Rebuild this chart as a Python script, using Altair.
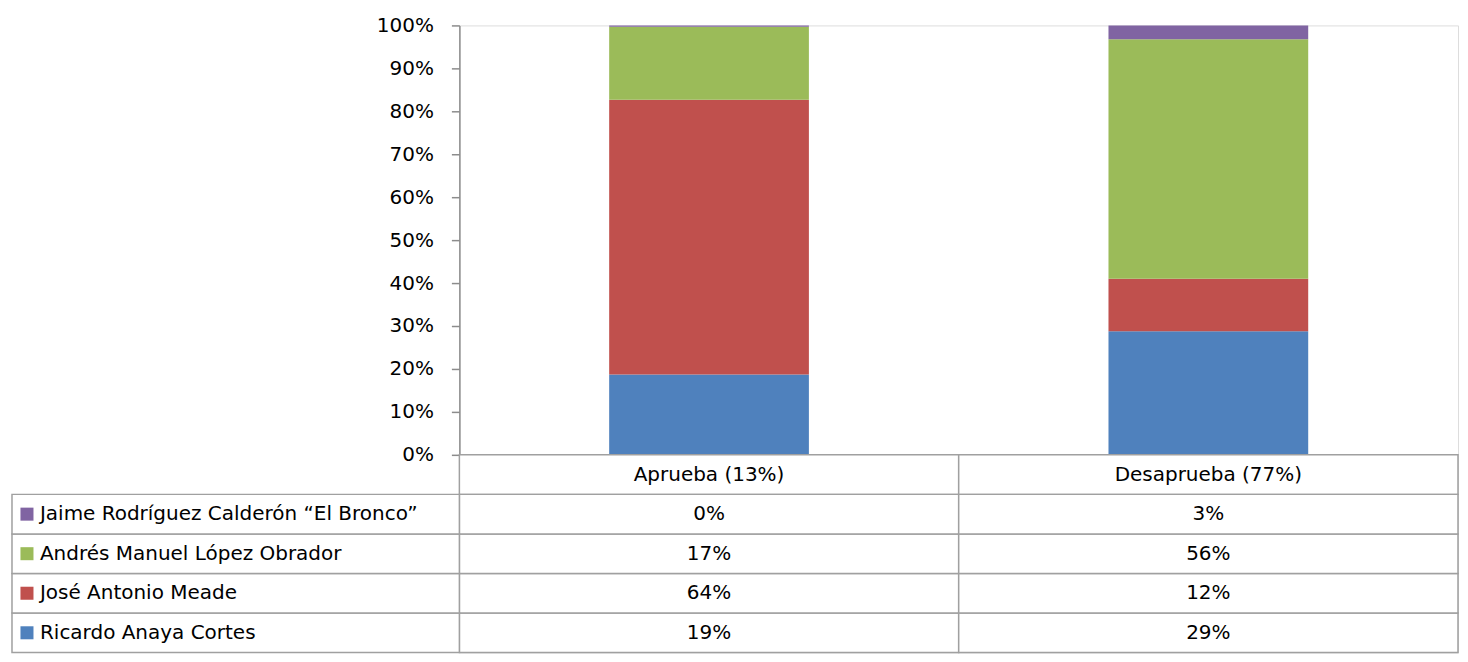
import altair as alt
import pandas as pd

categories = ["Aprueba (13%)", "Desaprueba (77%)"]
series = [
    "Ricardo Anaya Cortes",
    "José Antonio Meade",
    "Andrés Manuel López Obrador",
    "Jaime Rodríguez Calderón “El Bronco”",
]
colors = ["#4F81BD", "#C0504D", "#9BBB59", "#8064A2"]
aprueba = [0.187, 0.640, 0.170, 0.003]
desaprueba = [0.288, 0.122, 0.558, 0.032]

FONT = "DejaVu Sans"
FS = 20
W = 1000
LINE = "#a0a0a0"

# ---- data for bars
rows = []
for i, s in enumerate(series):
    rows.append({"cat": categories[0], "series": s, "order": i, "value": aprueba[i]})
    rows.append({"cat": categories[1], "series": s, "order": i, "value": desaprueba[i]})
df = pd.DataFrame(rows)

color_scale = alt.Scale(domain=series, range=colors)

bars = alt.Chart(df).mark_bar().encode(
    x=alt.X(
        "cat:N", sort=categories,
        scale=alt.Scale(paddingInner=0.6, paddingOuter=0.3),
        axis=None,
    ),
    y=alt.Y(
        "value:Q", stack="zero",
        scale=alt.Scale(domain=[0, 1]),
        axis=alt.Axis(tickCount=10, format=".0%", title=None, grid=False,
                      tickSize=8, tickColor="#8c8c8c", tickWidth=1.5,
                      domainColor="#8c8c8c", domainWidth=1.5,
                      labelFontSize=FS, labelColor="black", labelPadding=18,
                      labelFont=FONT),
    ),
    color=alt.Color("series:N", scale=color_scale, legend=None),
    order=alt.Order("order:Q"),
).properties(width=W, height=430)

# ---- data table
table_rows = ["header"] + series[::-1]
cells = []
for ci, c in enumerate(categories):
    cells.append({"row": "header", "cat": c, "text": c})
    for i, s in enumerate(series):
        v = aprueba[i] if ci == 0 else desaprueba[i]
        cells.append({"row": s, "cat": c, "text": f"{round(v * 100)}%"})
cells_df = pd.DataFrame(cells)
labels_df = pd.DataFrame({"row": series, "series": series})

yscale = alt.Scale(domain=table_rows, paddingInner=0, paddingOuter=0)
xscale = alt.Scale(domain=categories, paddingInner=0, paddingOuter=0)

cell_base = alt.Chart(cells_df).encode(
    x=alt.X("cat:N", scale=xscale, axis=None),
    y=alt.Y("row:N", scale=yscale, axis=None),
)
cell_rect = cell_base.mark_rect(fill="white", stroke=LINE, strokeWidth=1.5)
cell_text = cell_base.mark_text(font=FONT, fontSize=FS, color="black").encode(text="text:N")

lab_base = alt.Chart(labels_df).encode(y=alt.Y("row:N", scale=yscale, axis=None))
lab_rect = lab_base.mark_rect(fill="white", stroke=LINE, strokeWidth=1.5).encode(
    x=alt.value(-448), x2=alt.value(0)
)
lab_sq = lab_base.mark_square(size=170, opacity=1).encode(
    x=alt.value(-433),
    color=alt.Color("series:N", scale=color_scale, legend=None),
)
lab_text = lab_base.mark_text(align="left", font=FONT, fontSize=FS, color="black").encode(
    x=alt.value(-420), text="row:N"
)

table = alt.layer(cell_rect, lab_rect, cell_text, lab_sq, lab_text).properties(
    width=W, height=198
)

chart = alt.vconcat(bars, table, spacing=0, bounds="flush").properties(
    padding={"left": 2, "top": 6, "right": 0, "bottom": 0}
).configure_view(stroke=None).configure(font=FONT)

chart.save("out.html", embed_options={"renderer": "svg", "actions": False})
